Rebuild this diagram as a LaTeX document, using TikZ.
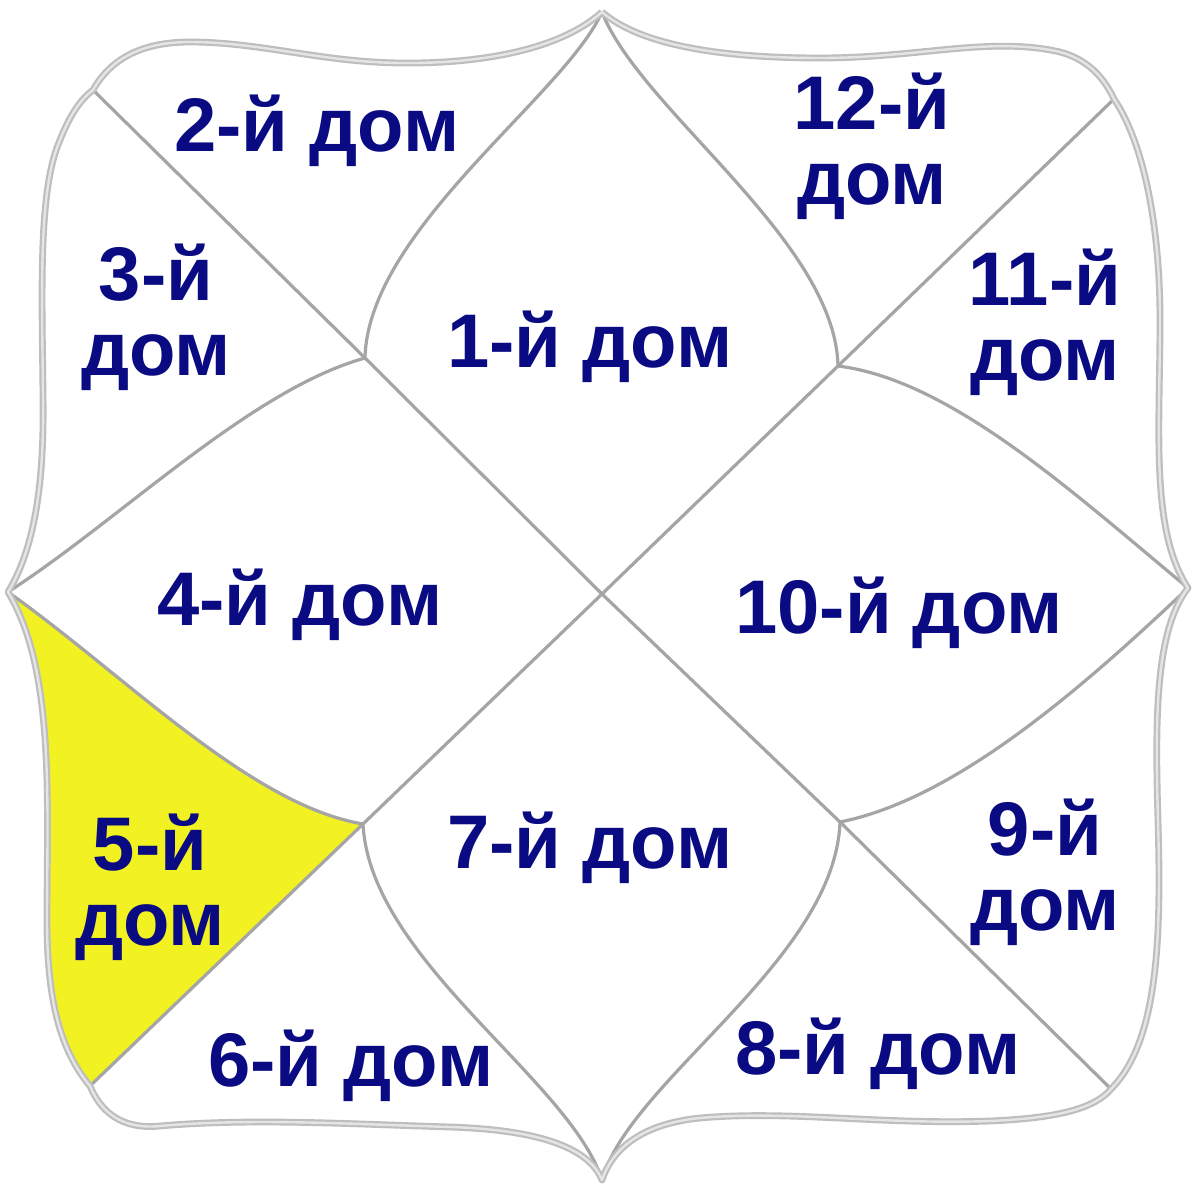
\documentclass[tikz,border=0pt]{standalone}
\usepackage{fontspec}
\setmainfont{Liberation Sans}
\definecolor{navy}{RGB}{10,10,130}
\definecolor{hl}{RGB}{242,242,34}
\definecolor{lin}{RGB}{165,165,165}
\definecolor{brd}{RGB}{190,190,190}
\begin{document}
\begin{tikzpicture}[x=1pt,y=-1pt,
  inner/.style={draw=lin,line width=3.2pt,line join=round},
  border/.style={draw=brd,line width=2.2pt,double=white!90!black,double distance=2.4pt,line join=round},
  lbl/.style={text=navy,font=\fontsize{76}{75}\selectfont\bfseries,inner sep=0pt,anchor=base,align=center}]
\useasboundingbox (0,0) rectangle (1200,1190);
\fill[white] (0,0) rectangle (1200,1190);
% key points
\coordinate (T) at (602,12);
\coordinate (L) at (8,592);
\coordinate (R) at (1188,588);
\coordinate (B) at (602,1180);
\coordinate (TLc) at (93,90);
\coordinate (TRc) at (1114,99);
\coordinate (BRc) at (1111,1089);
\coordinate (BLc) at (90,1086);
\coordinate (P1) at (365,358);
\coordinate (P2) at (838,366);
\coordinate (P3) at (840,822);
\coordinate (P4) at (363,824);
\coordinate (C) at (602,594);
% highlighted 5th house
\fill[hl] (L) .. controls (55,670) and (47,800) .. (47,920)
  .. controls (47,1000) and (60,1050) .. (BLc) -- (P4)
  .. controls (250,805) and (125,675) .. (L) -- cycle;
% diagonals
\draw[inner] (TLc) -- (P1) -- (C) -- (P3) -- (BRc);
\draw[inner] (TRc) -- (P2) -- (C) -- (P4) -- (BLc);
% petal curves
\draw[inner] (T) .. controls (565,95) and (368,230) .. (P1);
\draw[inner] (T) .. controls (640,110) and (835,240) .. (P2);
\draw[inner] (P1) .. controls (250,390) and (120,520) .. (L);
\draw[inner] (L) .. controls (125,675) and (250,805) .. (P4);
\draw[inner] (P4) .. controls (370,960) and (570,1080) .. (B);
\draw[inner] (B) .. controls (630,1080) and (835,960) .. (P3);
\draw[inner] (P3) .. controls (950,800) and (1070,700) .. (R);
\draw[inner] (R) .. controls (1070,490) and (950,380) .. (P2);
% outer border
\draw[border] (T) .. controls (640,45) and (720,58) .. (820,58)
  .. controls (920,58) and (990,36) .. (1060,52)
  .. controls (1090,60) and (1105,80) .. (TRc)
  .. controls (1145,145) and (1160,230) .. (1160,320)
  .. controls (1160,430) and (1150,530) .. (R)
  .. controls (1155,630) and (1155,720) .. (1158,820)
  .. controls (1161,930) and (1160,1040) .. (BRc)
  .. controls (1095,1108) and (1060,1118) .. (990,1121)
  .. controls (880,1125) and (790,1110) .. (700,1118)
  .. controls (640,1124) and (612,1150) .. (B)
  .. controls (590,1150) and (545,1130) .. (450,1127)
  .. controls (350,1124) and (250,1118) .. (160,1126)
  .. controls (120,1130) and (100,1110) .. (BLc)
  .. controls (60,1050) and (47,1000) .. (47,920)
  .. controls (47,800) and (55,670) .. (L)
  .. controls (40,540) and (44,460) .. (43,395)
  .. controls (42,290) and (38,190) .. (60,140)
  .. controls (70,115) and (80,100) .. (TLc)
  .. controls (110,60) and (140,42) .. (190,42)
  .. controls (260,42) and (320,62) .. (400,63)
  .. controls (480,64) and (560,50) .. (T);
% labels
\node[lbl] (h1) at (590,368) {1-й дом};
\node[lbl] (h2) at (317,152) {2-й дом};
\node[lbl] (h3) at (156,375) {3-й\\дом};
\node[lbl] (h4) at (300,625) {4-й дом};
\node[lbl] (h5) at (150,945) {5-й\\дом};
\node[lbl] (h6) at (351,1086) {6-й дом};
\node[lbl] (h7) at (590,868) {7-й дом};
\node[lbl] (h8) at (878,1074) {8-й дом};
\node[lbl] (h9) at (1045,930) {9-й\\дом};
\node[lbl] (h10) at (899,633) {10-й дом};
\node[lbl] (h11) at (1045,381) {11-й\\дом};
\node[lbl] (h12) at (872,205) {12-й\\дом};
\end{tikzpicture}
\end{document}
